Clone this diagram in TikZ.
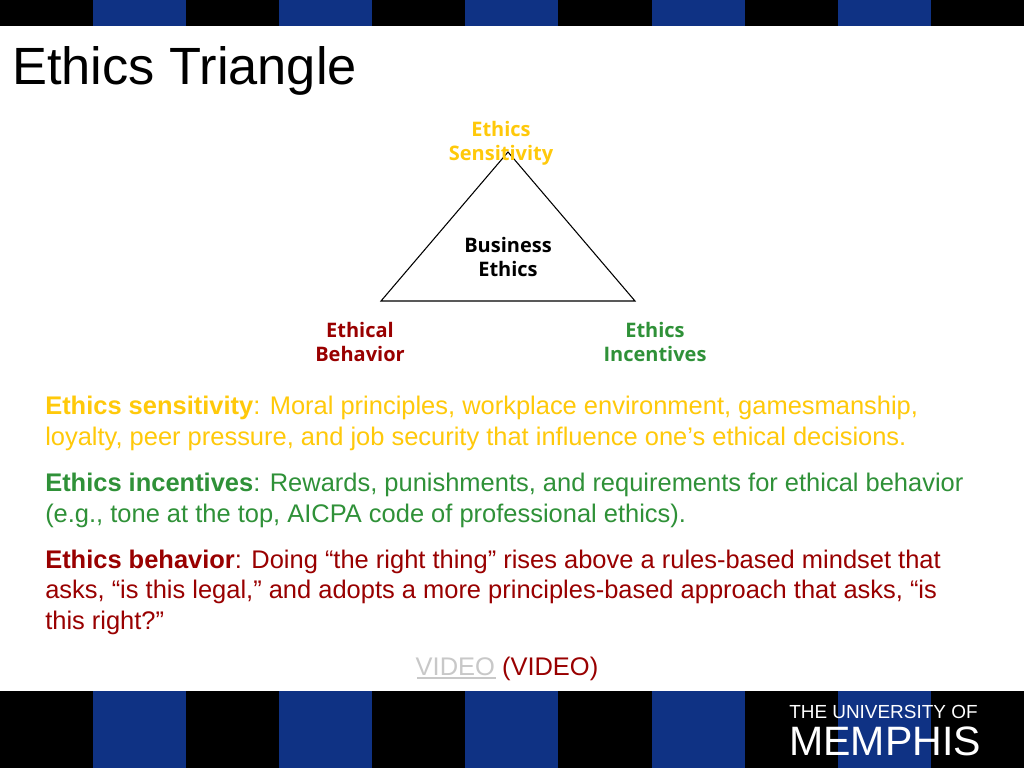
\documentclass[tikz,border=0pt]{standalone}
\usepackage{fontspec}
\setmainfont{Liberation Sans}
\newfontfamily\labelfont{Open Sans}
\definecolor{barblue}{HTML}{0F3284}
\definecolor{ugold}{HTML}{FFC90A}
\definecolor{ugreen}{HTML}{2F9138}
\definecolor{ured}{HTML}{990000}
\definecolor{linkgray}{HTML}{C8C8C8}
\tikzset{
  px/.style={x=0.75pt,y=-0.75pt},
  diag/.style={font=\labelfont\bfseries\fontsize{15}{18}\selectfont,align=center,inner sep=0pt,anchor=center},
  body/.style={font=\fontsize{19.1}{22}\selectfont,anchor=base west,inner sep=0pt},
  bar/.style={fill=barblue,draw=none},
  band/.style={fill=black,draw=none},
}
\begin{document}
\begin{tikzpicture}[px]
\useasboundingbox (0,0) rectangle (1024,768);
\fill[white] (0,0) rectangle (1024,768);
\path[band] (0,0) rectangle (1024,26);
\path[band] (0,691) rectangle (1024,768);
\foreach \a/\b in {93/186,279/372,465/558,652/745,838/931}{
  \path[bar] (\a,0) rectangle (\b,26);
  \path[bar] (\a,691) rectangle (\b,768);
}
\node[anchor=base west,inner sep=0pt,font=\fontsize{39.3}{44}\selectfont] (title) at (12,84) {Ethics Triangle};
\coordinate (apex) at (508,152);
\coordinate (left) at (381,301);
\coordinate (right) at (635,301);
\draw[line width=0.8pt,line join=miter] (apex) -- (left) -- (right) -- cycle;
\node[diag,text=ugold] (sens) at (501,143) {Ethics\\Sensitivity};
\node[diag,text=black] (biz) at (508,257) {Business\\Ethics};
\node[diag,text=ured] (behav) at (360,342) {Ethical\\Behavior};
\node[diag,text=ugreen] (incent) at (655,342) {Ethics\\Incentives};
\node[body,text=ugold] (s1) at (45,414) {\textbf{Ethics sensitivity}: Moral principles, workplace environment, gamesmanship,};
\node[body,text=ugold] (s2) at (45,445) {loyalty, peer pressure, and job security that influence one’s ethical decisions.};
\node[body,text=ugreen] (i1) at (45,491) {\textbf{Ethics incentives}: Rewards, punishments, and requirements for ethical behavior};
\node[body,text=ugreen] (i2) at (45,522) {(e.g., tone at the top, AICPA code of professional ethics).};
\node[body,text=ured] (b1) at (45,568) {\textbf{Ethics behavior}: Doing “the right thing” rises above a rules-based mindset that};
\node[body,text=ured] (b2) at (45,598) {asks, “is this legal,” and adopts a more principles-based approach that asks, “is};
\node[body,text=ured] (b3) at (45,629) {this right?”};
\node[body,anchor=base,text=ured] (vid) at (507,675) {\textcolor{linkgray}{VIDEO} (VIDEO)};
\draw[linkgray,line width=0.8pt] (417,678) -- (496,678);
\node[anchor=base west,inner sep=0pt,text=white,font=\fontsize{14.2}{16}\selectfont] (uni) at (789,718) {THE UNIVERSITY OF};
\node[anchor=base west,inner sep=0pt,text=white,font=\fontsize{30.8}{32}\selectfont] (mem) at (789,755) {MEMPHIS};
\end{tikzpicture}
\end{document}
